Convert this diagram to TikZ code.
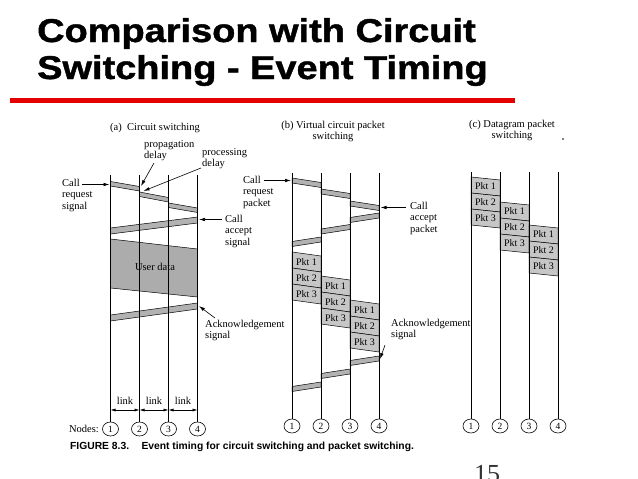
\documentclass[tikz,border=0pt]{standalone}
\usepackage{fontspec}
\usepackage{graphicx}
\setmainfont{Liberation Serif}
\newfontfamily\titlefont{Liberation Sans}[BoldFeatures={FakeBold=1.2}]
\newfontfamily\capfont{Liberation Sans}
\usetikzlibrary{arrows.meta,shapes.geometric}
\begin{document}
\begin{tikzpicture}[x=1pt,y=-1pt,
  band/.style={fill=gray!60,draw=black,line width=0.5pt},
  pkt/.style={fill=gray!45,draw=black,line width=0.5pt},
  udata/.style={fill=gray!65,draw=black,line width=0.5pt},
  vline/.style={line width=0.6pt},
  lbl/.style={font=\fontsize{10.5}{11.5}\selectfont, inner sep=0pt, align=left},
  hdr/.style={font=\fontsize{10.5}{11}\selectfont, inner sep=0pt, align=center},
  ptr/.style={-{Latex[length=6pt,width=3.5pt]}, line width=0.6pt},
  lnk/.style={{Latex[length=5pt,width=3pt]}-{Latex[length=5pt,width=3pt]}, line width=0.6pt},
  nd/.style={ellipse, draw, line width=0.6pt, minimum width=16pt, minimum height=14pt, inner sep=0pt, font=\fontsize{9.5}{9.5}\selectfont},
  pl/.style={font=\fontsize{10}{10}\selectfont, inner sep=0pt}]

\useasboundingbox (0,0) rectangle (638,479);
\fill[white] (0,0) rectangle (638,479);

% ---- title ----
\node[anchor=base west, inner sep=0pt] (t1) at (37,42)
  {\scalebox{1.15}[1]{\titlefont\bfseries\fontsize{33}{33}\selectfont Comparison with Circuit}};
\node[anchor=base west, inner sep=0pt] (t2) at (37,79)
  {\scalebox{1.15}[1]{\titlefont\bfseries\fontsize{33}{33}\selectfont Switching - Event Timing}};
\fill[red!90!black] (10,98) rectangle (515,103);

% ---- (a) circuit switching ----
\filldraw[band] (110.5,181.5) -- (139.5,186.5) -- (139.5,191) -- (110.5,186) -- cycle;
\filldraw[band] (139.5,192) -- (168.5,197.5) -- (168.5,202) -- (139.5,196.5) -- cycle;
\filldraw[band] (168.5,203) -- (197.5,208) -- (197.5,212.5) -- (168.5,207.5) -- cycle;
\filldraw[band] (197.5,217) -- (110.5,228) -- (110.5,234) -- (197.5,223) -- cycle;
\filldraw[udata] (110.5,239) -- (197.5,249) -- (197.5,297) -- (110.5,288) -- cycle;
\filldraw[band] (197.5,303) -- (110.5,315) -- (110.5,321) -- (197.5,309) -- cycle;
\node[font=\fontsize{10.5}{11}\selectfont, inner sep=0pt] (ud) at (155,267) {User data};

\node[nd] (a1) at (110.5,429) {1};
\node[nd] (a2) at (139.5,429) {2};
\node[nd] (a3) at (168.5,429) {3};
\node[nd] (a4) at (197.5,429) {4};
\draw[vline] (110.5,175) coordinate (a1t) -- (a1);
\draw[vline] (139.5,175) coordinate (a2t) -- (a2);
\draw[vline] (168.5,175) coordinate (a3t) -- (a3);
\draw[vline] (197.5,175) coordinate (a4t) -- (a4);
\node[font=\fontsize{10.5}{11}\selectfont, inner sep=0pt, anchor=east] (nodes) at (99,429) {Nodes:};

\coordinate (l1) at (110.5,410); \coordinate (l2) at (139.5,410);
\coordinate (l3) at (168.5,410); \coordinate (l4) at (197.5,410);
\draw[lnk] (l1) -- (l2);
\draw[lnk] (l2) -- (l3);
\draw[lnk] (l3) -- (l4);
\node[lbl] (k1) at (125,401) {link};
\node[lbl] (k2) at (154,401) {link};
\node[lbl] (k3) at (183,401) {link};

\node[hdr] (ha) at (155,128) {(a)\enspace Circuit switching};
\node[lbl, anchor=north west] (prop) at (144,140) {propagation\\delay};
\node[lbl, anchor=north west] (proc) at (202,148) {processing\\delay};
\coordinate (propEnd) at (141,186);
\coordinate (procEnd) at (143.5,191);
\draw[ptr] (154,163) -- (propEnd);
\draw[ptr] (201,168) -- (procEnd);
\node[lbl, anchor=north west] (creq) at (62,179) {Call\\request\\signal};
\coordinate (creqEnd) at (109.5,184.5);
\draw[ptr] (82,184.5) -- (creqEnd);
\node[lbl, anchor=north west] (cacc) at (225,215) {Call\\accept\\signal};
\coordinate (caccEnd) at (199,219.5);
\draw[ptr] (222,219.5) -- (caccEnd);
\node[lbl, anchor=north west] (ack) at (205,320) {Acknowledgement\\signal};
\coordinate (ackEnd) at (199,306);
\draw[ptr] (215,318) -- (ackEnd);

% ---- (b) virtual circuit ----
\filldraw[band] (292,178) -- (321,182.5) -- (321,187.5) -- (292,183) -- cycle;
\filldraw[band] (321,189) -- (350,193.5) -- (350,198.5) -- (321,194) -- cycle;
\filldraw[band] (350,201) -- (379,205.5) -- (379,210.5) -- (350,206) -- cycle;
\filldraw[band] (379,213) -- (350,217.5) -- (350,222.5) -- (379,218) -- cycle;
\filldraw[band] (350,224.5) -- (321,229) -- (321,234) -- (350,229.5) -- cycle;
\filldraw[band] (321,237) -- (292,241.5) -- (292,246.5) -- (321,242) -- cycle;
\filldraw[band] (379,356) -- (350,360.5) -- (350,365.5) -- (379,361) -- cycle;
\filldraw[band] (350,369) -- (321,373.5) -- (321,378.5) -- (350,374) -- cycle;
\filldraw[band] (321,382) -- (292,386.5) -- (292,391.5) -- (321,387) -- cycle;

% ---- packets (b) and (c) ----
\foreach \xl/\xr/\yl/\yr in {292/321/252/256, 321/350/276/280, 350/379/300/304,
                              471/500/177/180, 500/529/202/205, 529/558/225/228} {
  \foreach \k in {0,1,2} {
    \filldraw[pkt] (\xl,\yl+16*\k) -- (\xr,\yr+16*\k) -- (\xr,\yr+16*\k+16) -- (\xl,\yl+16*\k+16) -- cycle;
    \node[pl] at ({(\xl+\xr)/2},{(\yl+\yr)/2+16*\k+8}) {Pkt \the\numexpr\k+1\relax};
  }
}

\node[nd] (b1) at (292,426) {1};
\node[nd] (b2) at (321,426) {2};
\node[nd] (b3) at (350,426) {3};
\node[nd] (b4) at (379,426) {4};
\draw[vline] (292,173) coordinate (b1t) -- (b1);
\draw[vline] (321,173) coordinate (b2t) -- (b2);
\draw[vline] (350,173) coordinate (b3t) -- (b3);
\draw[vline] (379,173) coordinate (b4t) -- (b4);

\node[hdr] (hb) at (333,131.5) {(b) Virtual circuit packet\\switching};
\node[lbl, anchor=north west] (preq) at (243,176) {Call\\request\\packet};
\coordinate (preqEnd) at (291,180.5);
\draw[ptr] (264,180.5) -- (preqEnd);
\node[lbl, anchor=north west] (pacc) at (410,202) {Call\\accept\\packet};
\coordinate (paccEnd) at (380.5,207.5);
\draw[ptr] (406,207.5) -- (paccEnd);
\node[lbl, anchor=north west] (back) at (391,319) {Acknowledgement\\signal};
\coordinate (backEnd) at (380,359);
\draw[ptr] (385,345) -- (backEnd);

% ---- (c) datagram ----
\node[nd] (c1) at (471,426) {1};
\node[nd] (c2) at (500,426) {2};
\node[nd] (c3) at (529,426) {3};
\node[nd] (c4) at (558,426) {4};
\draw[vline] (471,172) coordinate (c1t) -- (c1);
\draw[vline] (500,172) coordinate (c2t) -- (c2);
\draw[vline] (529,172) coordinate (c3t) -- (c3);
\draw[vline] (558,172) coordinate (c4t) -- (c4);
\node[hdr] (hc) at (512,130.5) {(c) Datagram packet\\switching};
\fill (563,139) circle (0.8);

% ---- caption ----
\node[anchor=base west, inner sep=0pt, font=\capfont\bfseries\fontsize{10.3}{10.3}\selectfont] (cap) at (70,449)
  {FIGURE 8.3.\hspace{1.2em}Event timing for circuit switching and packet switching.};

% ---- page number (cut off at the lower edge, as in the reference) ----
\begin{scope}
\clip (0,0) rectangle (638,479);
\node[anchor=base, inner sep=0pt, font=\fontsize{26}{26}\selectfont, text=black!80] (pg) at (487,482) {15};
\end{scope}
\end{tikzpicture}
\end{document}
